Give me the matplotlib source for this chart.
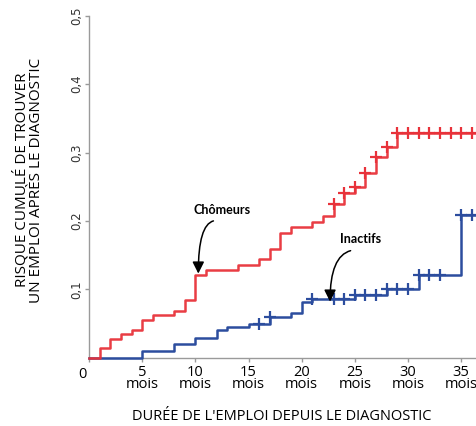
import matplotlib
matplotlib.use("Agg")
from matplotlib import pyplot as plt

# Chomeurs (red)
red_t = [0, 1, 2, 3, 4, 5, 6, 8, 9, 10, 11, 14, 16, 17, 18, 19, 21, 22, 23, 24, 25, 26, 27, 28, 29, 36.3]
red_y = [0, 0.014, 0.027, 0.034, 0.041, 0.055, 0.062, 0.069, 0.084, 0.121, 0.128, 0.136, 0.144, 0.159,
         0.182, 0.191, 0.198, 0.207, 0.224, 0.241, 0.249, 0.270, 0.293, 0.308, 0.328, 0.328]
red_cens = [23, 24, 25, 26, 27, 28, 29, 30, 31, 32, 33, 34, 35, 36]

# Inactifs (blue)
blue_t = [0, 5, 8, 10, 12, 13, 15, 17, 19, 20, 21, 25, 28, 31, 35, 36.3]
blue_y = [0, 0.010, 0.020, 0.029, 0.040, 0.045, 0.049, 0.060, 0.065, 0.081, 0.086, 0.092, 0.101,
          0.121, 0.208, 0.208]
blue_cens = [16, 17, 21, 23, 24, 25, 26, 27, 28, 29, 30, 31, 32, 33, 35, 36]

xticks = [5, 10, 15, 20, 25, 30, 35]
yticks = [0.1, 0.2, 0.3, 0.4, 0.5]

red = "#e8323a"
blue = "#2c4d9e"
grey = "#9a9a9a"

def step_val(t, y, x):
    v = y[0]
    for ti, yi in zip(t, y):
        if ti <= x:
            v = yi
    return v

fig = plt.figure(figsize=(4.77, 4.26), dpi=100)
ax = fig.add_axes([0.1866, 0.1603, 0.8092, 0.8028])

ax.step(blue_t, blue_y, where="post", color=blue, lw=1.8, zorder=3, clip_on=False)
ax.step(red_t, red_y, where="post", color=red, lw=1.8, zorder=4, clip_on=False, alpha=0.95)
ax.plot(red_cens, [step_val(red_t, red_y, c) for c in red_cens], "+", color=red,
        ms=8, mew=1.6, zorder=4)
ax.plot(blue_cens, [step_val(blue_t, blue_y, c) for c in blue_cens], "+", color=blue,
        ms=8, mew=1.6, zorder=3)

ax.set_xlim(0, 36.3)
ax.set_ylim(0, 0.5)
for s in ["top", "right"]:
    ax.spines[s].set_visible(False)
for s in ["left", "bottom"]:
    ax.spines[s].set_color(grey)
    ax.spines[s].set_linewidth(1.0)
    ax.spines[s].set_zorder(1)

ax.set_xticks([0] + xticks)
ax.set_xticklabels([""] + ["%d\nmois" % v for v in xticks], fontfamily="Open Sans",
                   fontsize=10.5, linespacing=0.8)
ax.set_yticks(yticks)
ax.set_yticklabels([("%.1f" % v).replace(".", ",") for v in yticks], rotation=90,
                   va="center", fontsize=8.5)
ax.tick_params(axis="both", colors=grey, length=3, width=1)
ax.tick_params(axis="x", labelcolor="black", pad=2)
ax.tick_params(axis="y", labelcolor="#333333", pad=1)
ax.text(-0.018, -0.05, "0", transform=ax.transAxes, ha="center", va="center",
        fontsize=10.5, fontfamily="Open Sans")

fig.text(28.5 / 477, 1 - 180 / 426, "RISQUE CUMULÉ DE TROUVER\nUN EMPLOI APRÈS LE DIAGNOSTIC",
         rotation=90, ha="center", va="center", fontfamily="Open Sans", fontsize=11,
         linespacing=1.0)
fig.text(281.5 / 477, 1 - 417 / 426, "DURÉE DE L'EMPLOI DEPUIS LE DIAGNOSTIC",
         ha="center", va="center", fontfamily="Open Sans", fontsize=10.5)

arrow = dict(arrowstyle="-|>,head_length=0.7,head_width=0.35", color="black", lw=1.1,
             shrinkA=0, shrinkB=0, connectionstyle="angle3,angleA=15,angleB=90")
ax.annotate("", xy=(10.28, 0.123), xytext=(11.7, 0.200), arrowprops=arrow, zorder=6)
ax.text(12.5, 0.2155, "Chômeurs", ha="center", va="center", fontfamily="Lato",
        fontweight="bold", fontsize=9)
ax.annotate("", xy=(22.67, 0.082), xytext=(24.6, 0.1565), arrowprops=arrow, zorder=6)
ax.text(25.5, 0.174, "Inactifs", ha="center", va="center", fontfamily="Lato",
        fontweight="bold", fontsize=9)

fig.savefig("out.png", dpi=100)
